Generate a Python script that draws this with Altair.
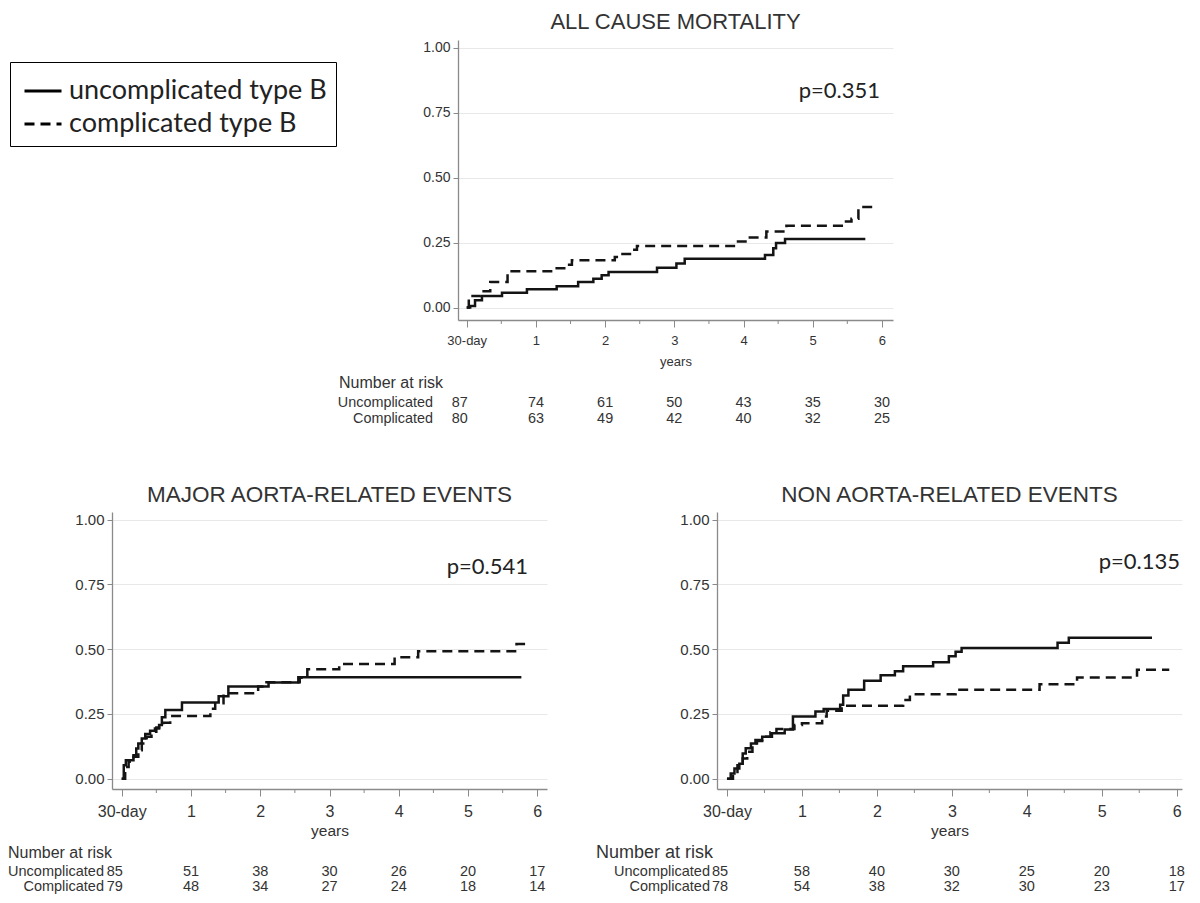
import altair as alt
import pandas as pd

GROUPS = ["uncomplicated type B", "complicated type B"]
TICKS = [0, 1, 2, 3, 4, 5, 6]
MINOR = [0.5, 1.5, 2.5, 3.5, 4.5, 5.5]
YTICKS = [0, 0.25, 0.5, 0.75, 1.0]

# ---- ALL CAUSE MORTALITY ----
acm_unc_t = [0, 0.05, 0.12, 0.22, 0.51, 0.87, 1.30, 1.61, 1.83, 1.95, 2.05, 2.75, 3.03, 3.15, 4.31, 4.43, 4.47, 4.60, 5.76]
acm_unc_v = [0, 0.006, 0.028, 0.044, 0.057, 0.070, 0.082, 0.098, 0.111, 0.124, 0.137, 0.153, 0.170, 0.188, 0.202, 0.228, 0.248, 0.264, 0.264]
acm_com_t = [0, 0.03, 0.20, 0.34, 0.59, 1.30, 1.45, 1.52, 2.14, 2.19, 2.40, 2.46, 3.90, 4.05, 4.33, 4.62, 5.42, 5.56, 5.66, 5.90]
acm_com_v = [0, 0.044, 0.063, 0.098, 0.140, 0.151, 0.165, 0.182, 0.195, 0.206, 0.222, 0.237, 0.254, 0.270, 0.293, 0.315, 0.331, 0.342, 0.387, 0.387]
acm_risk_unc = [87, 74, 61, 50, 43, 35, 30]
acm_risk_com = [80, 63, 49, 42, 40, 32, 25]

# ---- MAJOR AORTA-RELATED EVENTS ----
mar_unc_t = [0, 0.03, 0.06, 0.17, 0.21, 0.24, 0.29, 0.34, 0.41, 0.48, 0.54, 0.58, 0.63, 0.87, 1.40, 1.54, 2.12, 2.55, 5.77]
mar_unc_v = [0, 0.052, 0.071, 0.090, 0.116, 0.136, 0.155, 0.172, 0.185, 0.194, 0.207, 0.237, 0.265, 0.294, 0.318, 0.356, 0.371, 0.392, 0.392]
mar_com_t = [0, 0.05, 0.10, 0.17, 0.24, 0.29, 0.36, 0.43, 0.50, 0.60, 0.70, 1.28, 1.35, 1.47, 1.97, 2.09, 2.57, 2.68, 3.14, 3.94, 4.28, 5.70, 5.89]
mar_com_v = [0, 0.045, 0.065, 0.085, 0.110, 0.136, 0.162, 0.181, 0.198, 0.216, 0.242, 0.270, 0.291, 0.330, 0.356, 0.372, 0.390, 0.423, 0.443, 0.469, 0.492, 0.520, 0.520]
mar_risk_unc = [85, 51, 38, 30, 26, 20, 17]
mar_risk_com = [79, 48, 34, 27, 24, 18, 14]

# ---- NON AORTA-RELATED EVENTS ----
nar_unc_t = [0, 0.05, 0.10, 0.165, 0.21, 0.25, 0.32, 0.38, 0.47, 0.60, 0.77, 0.88, 1.18, 1.29, 1.51, 1.55, 1.62, 1.83, 2.05, 2.24, 2.35, 2.75, 2.96, 3.05, 3.13, 4.41, 4.56, 5.67]
nar_unc_v = [0, 0.020, 0.039, 0.058, 0.097, 0.117, 0.136, 0.149, 0.162, 0.175, 0.190, 0.240, 0.259, 0.269, 0.285, 0.321, 0.343, 0.378, 0.399, 0.415, 0.434, 0.450, 0.473, 0.490, 0.505, 0.525, 0.544, 0.544]
nar_com_t = [0, 0.08, 0.14, 0.21, 0.27, 0.34, 0.40, 0.49, 0.58, 0.66, 0.90, 1.00, 1.27, 1.33, 1.53, 2.35, 2.44, 3.05, 4.17, 4.67, 5.47, 5.90]
nar_com_v = [0, 0.026, 0.052, 0.078, 0.104, 0.130, 0.145, 0.162, 0.179, 0.192, 0.207, 0.214, 0.240, 0.262, 0.282, 0.304, 0.326, 0.343, 0.365, 0.391, 0.421, 0.421]
nar_risk_unc = [85, 58, 40, 30, 25, 20, 18]
nar_risk_com = [78, 54, 38, 32, 30, 23, 17]

SAS = "Liberation Sans, Arial"
TXT = "#333333"
AXC = "#8a8a8a"


def curves_df(ut, uv, ct, cv):
    a = pd.DataFrame({"t": ut, "v": uv, "group": GROUPS[0]})
    b = pd.DataFrame({"t": ct, "v": cv, "group": GROUPS[1]})
    return pd.concat([a, b], ignore_index=True)


def panel(df, risk_u, risk_c, title, pval, w, h, xdom, ydom, st, legend=None):
    xs = alt.Scale(domain=xdom, nice=False, zero=False)
    ys = alt.Scale(domain=ydom, nice=False, zero=False)
    xaxis = alt.Axis(values=TICKS, labelExpr="datum.value == 0 ? '30-day' : datum.label",
                     title="years", labelFontSize=st["xl"], titleFontSize=st["xt"],
                     tickSize=7, labelPadding=st["lp"], titlePadding=st["tp"], grid=False,
                     labelFlush=False)
    yaxis = alt.Axis(values=YTICKS, format=".2f", title=None, grid=True,
                     labelFontSize=st["yl"], tickSize=5, labelPadding=3)
    X = alt.X("t:Q", scale=xs, axis=xaxis)
    dash = alt.StrokeDash("group:N", scale=alt.Scale(domain=GROUPS, range=[[1, 0], [10, 6]]),
                          legend=legend)
    lines = alt.Chart(df).mark_line(interpolate="step-after", color="#141414",
                                    strokeWidth=2.5).encode(
        x=X, y=alt.Y("v:Q", scale=ys, axis=yaxis), strokeDash=dash)
    minor = alt.Chart(pd.DataFrame({"t": MINOR})).mark_rule(color=AXC, strokeWidth=1).encode(
        x=X, y=alt.value(h), y2=alt.value(h + 4))
    pv = alt.Chart(pd.DataFrame({"p": [pval]})).mark_text(
        font="Lato", fontSize=22, align="right", baseline="alphabetic", color="#222").encode(
        x=alt.value(st["px"]), y=alt.value(st["py"]), text="p:N")
    layers = [lines, minor, pv]
    nar = alt.Chart(pd.DataFrame({"s": ["Number at risk"]})).mark_text(
        font=SAS, fontSize=st["nf"], align="left", baseline="middle", color=TXT).encode(
        x=alt.value(st["nx"]), y=alt.value(h + st["ny"]), text="s:N")
    layers.append(nar)
    for lab, vals, yo in (("Uncomplicated", risk_u, st["r1"]), ("Complicated", risk_c, st["r2"])):
        lab_ch = alt.Chart(pd.DataFrame({"s": [lab]})).mark_text(
            font=SAS, fontSize=st["rf"], align="right", baseline="middle", color=TXT).encode(
            x=alt.value(st["rx"]), y=alt.value(h + yo), text="s:N")
        d = pd.DataFrame({"t": TICKS, "n": vals})
        first = alt.Chart(d).transform_filter("datum.t == 0").mark_text(
            font=SAS, fontSize=st["numf"], baseline="middle", color=TXT, dx=-7).encode(
            x=X, y=alt.value(h + yo), text="n:Q")
        rest = alt.Chart(d).transform_filter("datum.t > 0").mark_text(
            font=SAS, fontSize=st["numf"], baseline="middle", color=TXT).encode(
            x=X, y=alt.value(h + yo), text="n:Q")
        layers += [lab_ch, first, rest]
    return alt.layer(*layers).properties(
        width=w, height=h,
        title=alt.TitleParams(title, font="Liberation Sans", fontSize=st["tf"], fontWeight="normal",
                              color=TXT, anchor="middle", frame="group", offset=6))


legend = alt.Legend(orient="none", legendX=-448, legendY=22, title=None, strokeColor="black",
                    padding=9, labelFont="Lato", labelFontSize=27, labelColor="#222",
                    labelLimit=600, symbolType="stroke", symbolSize=1369, symbolStrokeWidth=3,
                    symbolStrokeColor="black", symbolOffset=4, rowPadding=0, labelOffset=6,
                    cornerRadius=0)

st_top = dict(xl=13, xt=13, yl=14, lp=7, tp=8, px=422, py=58, nf=16, nx=-119, ny=63,
              rf=14.4, rx=-25, r1=83, r2=99, numf=14.4, tf=22)
st_bl = dict(xl=16, xt=15.5, yl=15, lp=7, tp=4, px=416, py=62, nf=16, nx=-104, ny=64,
             rf=14.5, rx=-8, r1=83, r2=98, numf=14.5, tf=22.5)
st_br = dict(xl=16, xt=15.5, yl=15, lp=7, tp=4, px=463, py=57, nf=18, nx=-121, ny=64,
             rf=14.5, rx=-7, r1=83, r2=98, numf=14.5, tf=22.5)

top = panel(curves_df(acm_unc_t, acm_unc_v, acm_com_t, acm_com_v), acm_risk_unc, acm_risk_com,
            "ALL CAUSE MORTALITY", "p=0.351", 435, 280, [-0.126, 6.16], [-0.048, 1.03], st_top,
            legend=legend)
bl = panel(curves_df(mar_unc_t, mar_unc_v, mar_com_t, mar_com_v), mar_risk_unc, mar_risk_com,
           "MAJOR AORTA-RELATED EVENTS", "p=0.541", 435, 277, [-0.14, 6.14], [-0.04, 1.03], st_bl)
br = panel(curves_df(nar_unc_t, nar_unc_v, nar_com_t, nar_com_v), nar_risk_unc, nar_risk_com,
           "NON AORTA-RELATED EVENTS", "p=0.135", 465, 277, [-0.133, 6.07], [-0.04, 1.03], st_br)

spacer = alt.Chart(pd.DataFrame({"a": [0]})).mark_point(opacity=0).encode(
    x=alt.value(0), y=alt.value(0)).properties(width=326, height=20)


def indep(c):
    return c.resolve_scale(x="independent", y="independent", strokeDash="independent").resolve_axis(
        x="independent", y="independent").resolve_legend(strokeDash="independent")


top_row = indep(alt.hconcat(spacer, top, spacing=20, bounds="flush"))
bottom_row = indep(alt.hconcat(bl, br, spacing=170, bounds="flush"))
chart = indep(alt.vconcat(top_row, bottom_row, spacing=472, bounds="flush")).properties(
    padding={"left": 0, "top": 3, "right": 0, "bottom": 0}
).configure_view(stroke=None).configure_axis(
    domainColor=AXC, tickColor=AXC, labelFont=SAS, titleFont=SAS, labelColor=TXT,
    titleColor=TXT, titleFontWeight="normal", gridColor="#e8e8e8", domainWidth=1.3
)

chart.save("out.html", embed_options={"renderer": "svg", "actions": False})
